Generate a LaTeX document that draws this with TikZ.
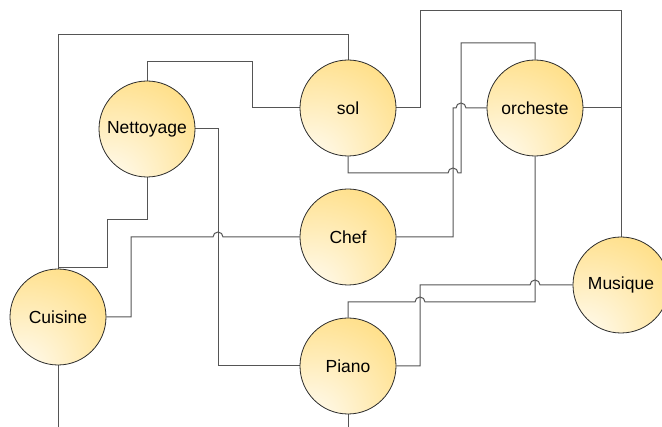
\documentclass[tikz,border=0pt]{standalone}
\usepackage{fontspec}
\setmainfont{Liberation Sans}
\usetikzlibrary{backgrounds}
\definecolor{bulbhi}{HTML}{FFFBF0}
\definecolor{bulblo}{HTML}{FFDF88}
\definecolor{wirec}{HTML}{555555}
\definecolor{rimc}{HTML}{2A2A2A}
% soft light spot towards the lower left of each disc
\pgfdeclareradialshading{bulb}{\pgfpoint{-24bp}{-34bp}}{%
  color(0bp)=(bulbhi); color(6bp)=(bulbhi); color(48bp)=(bulblo); color(100bp)=(bulblo)}
\begin{document}
\begin{tikzpicture}[x=1pt,y=-1pt,
  topic/.style={circle, draw=rimc, line width=0.8pt, shading=bulb,
    minimum size=96pt, inner sep=0pt,
    font=\fontsize{17.5}{20}\selectfont},
  wire/.style={draw=wirec, line width=1pt}]
\useasboundingbox (0,0) rectangle (662,427);

\node[topic] (net) at (147,129) {Nettoyage};
\node[topic] (sol) at (348,108) {sol};
\node[topic] (orc) at (535,108) {orcheste};
\node[topic] (chef) at (348,237) {Chef};
\node[topic] (cui) at (58,317) {Cuisine};
\node[topic] (pia) at (348,366) {Piano};
\node[topic] (mus) at (621,285) {Musique};

\begin{scope}[on background layer]
% Cuisine -- sol
\draw[wire] (cui.north) -- (58,35) -- (348,35) -- (sol.north);
% Nettoyage -- sol
\draw[wire] (net.north) -- (147,62) -- (252,62) -- (252,108) -- (sol.west);
% Nettoyage -- Piano
\draw[wire] (net.east) -- (218,129) -- (218,366) -- (pia.west);
% Nettoyage -- Cuisine
\draw[wire] (net.south) -- (147,220) -- (107,220) -- (107,268) -- (58,268) -- (cui.north);
% Cuisine -- Chef, hopping over the Nettoyage -- Piano wire
\draw[wire] (cui.east) -- (131,317) -- (131,237) -- (213,237) arc (180:0:5pt) -- (chef.west);
% sol -- Musique
\draw[wire] (sol.east) -- (420,108) -- (420,11) -- (621,11) -- (mus.north);
% orcheste -- Musique
\draw[wire] (orc.east) -- (621,108) -- (mus.north);
% sol -- orcheste
\draw[wire] (sol.south) -- (348,173) -- (448,173) arc (180:0:5pt) -- (461,173) -- (461,43) -- (535,43) -- (orc.north);
% Chef -- orcheste
\draw[wire] (chef.east) -- (453,237) -- (453,108) -- (456,108) arc (180:0:5pt) -- (orc.west);
% orcheste -- Piano
\draw[wire] (orc.south) -- (535,302) -- (425,302) arc (0:180:5pt) -- (348,302) -- (pia.north);
% Piano -- Musique
\draw[wire] (pia.east) -- (420,366) -- (420,285) -- (530,285) arc (180:0:5pt) -- (mus.west);
% Cuisine -- Piano, routed below the page edge
\draw[wire] (cui.south) -- (58,445) -- (348,445) -- (pia.south);
\end{scope}
\end{tikzpicture}
\end{document}
